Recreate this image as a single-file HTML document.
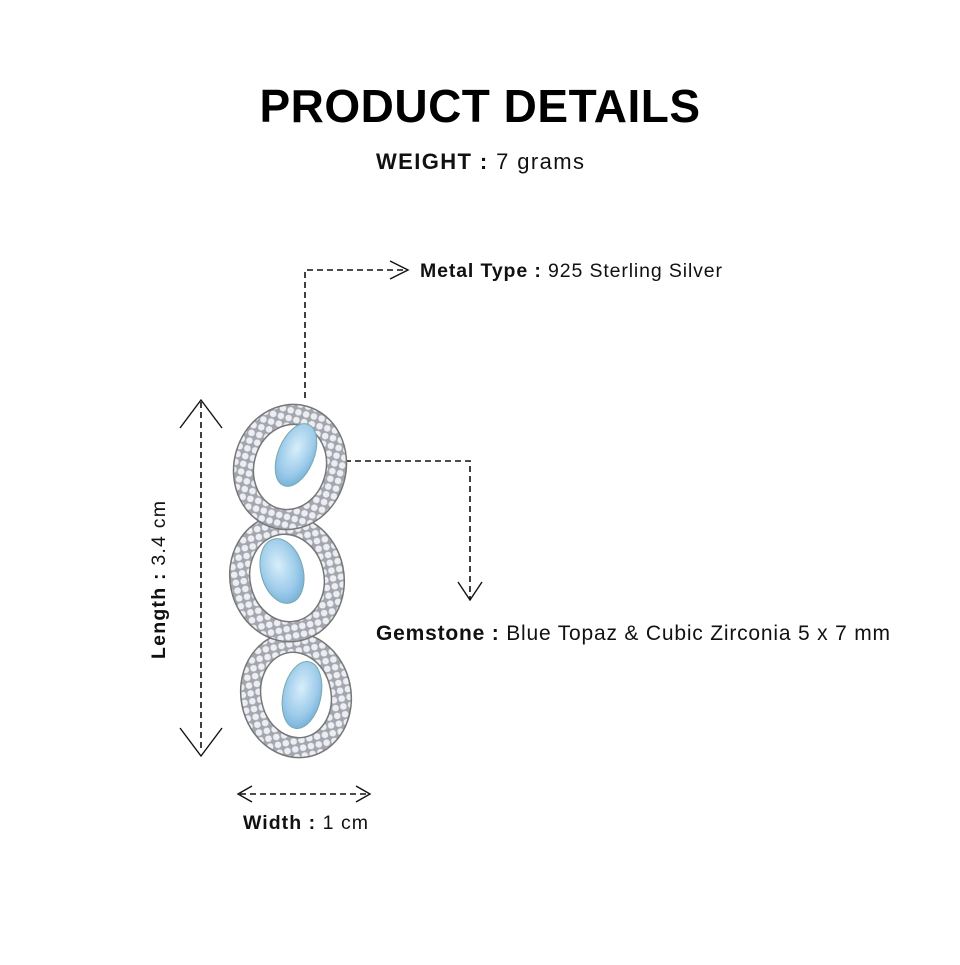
<!DOCTYPE html>
<html><head><style>
body{margin:0;background:#fff;width:960px;height:960px;overflow:hidden;font-family:"Liberation Sans",sans-serif}
</style></head><body>
<svg width="960" height="960" viewBox="0 0 960 960" xmlns="http://www.w3.org/2000/svg">
<defs>
<pattern id="pave" width="8" height="8" patternUnits="userSpaceOnUse">
<rect width="8" height="8" fill="#a4a6ae"/>
<circle cx="4" cy="4" r="3.3" fill="#eceef4"/>
</pattern>
<radialGradient id="gem" cx="0.45" cy="0.4" r="0.7">
<stop offset="0" stop-color="#d8eefa"/><stop offset="0.6" stop-color="#9ccbea"/><stop offset="1" stop-color="#6aa6d4"/>
</radialGradient>
</defs>
<text x="480" y="122" text-anchor="middle" font-size="46" font-weight="bold" fill="#000" letter-spacing="0.5">PRODUCT DETAILS</text>
<text x="376" y="169" font-size="22" fill="#111" textLength="208" lengthAdjust="spacing"><tspan font-weight="bold">WEIGHT :</tspan> 7 grams</text>

<g fill="none" stroke="#111" stroke-width="1.6" stroke-dasharray="6,4">
<path d="M305 398 V270 H405"/>
<path d="M325 461 H470 V600"/>
<path d="M201 402 V752"/>
<path d="M240 794 H368"/>
</g>
<g fill="none" stroke="#111" stroke-width="1.4">
<path d="M390 261 L408 270 L390 279"/>
<path d="M458 582 L470 600 L482 582"/>
<path d="M180 428 L201 400 L222 428"/>
<path d="M180 728 L201 756 L222 728"/>
<path d="M252 786 L238 794 L252 802"/>
<path d="M356 786 L370 794 L356 802"/>
</g>

<g stroke="#777" stroke-width="1.5">
<ellipse cx="296" cy="695" rx="55" ry="63" transform="rotate(-12 296 695)" fill="url(#pave)"/>
<ellipse cx="296" cy="695" rx="35" ry="43" transform="rotate(-12 296 695)" fill="#fff"/>
<ellipse cx="287" cy="578" rx="57" ry="64" transform="rotate(-12 287 578)" fill="url(#pave)"/>
<ellipse cx="287" cy="578" rx="37" ry="44" transform="rotate(-12 287 578)" fill="#fff"/>
<ellipse cx="290" cy="467" rx="56" ry="63" transform="rotate(15 290 467)" fill="url(#pave)"/>
<ellipse cx="290" cy="467" rx="36" ry="43" transform="rotate(15 290 467)" fill="#fff"/>
</g>
<g stroke="#7aa" stroke-width="1">
<ellipse cx="296" cy="455" rx="18" ry="33" transform="rotate(22 296 455)" fill="url(#gem)"/>
<ellipse cx="282" cy="571" rx="21" ry="33" transform="rotate(-15 282 571)" fill="url(#gem)"/>
<ellipse cx="302" cy="695" rx="19" ry="34" transform="rotate(12 302 695)" fill="url(#gem)"/>
</g>

<text x="420" y="277" font-size="19.5" fill="#111" textLength="302" lengthAdjust="spacing"><tspan font-weight="bold">Metal Type :</tspan> 925 Sterling Silver</text>
<text x="376" y="640" font-size="21" fill="#111" textLength="514" lengthAdjust="spacing"><tspan font-weight="bold">Gemstone :</tspan> Blue Topaz &amp; Cubic Zirconia 5 x 7 mm</text>
<text x="243" y="829" font-size="19.5" fill="#111" textLength="125" lengthAdjust="spacing"><tspan font-weight="bold">Width :</tspan> 1 cm</text>
<text transform="translate(165 580) rotate(-90)" text-anchor="middle" font-size="19.5" fill="#111" textLength="158" lengthAdjust="spacing"><tspan font-weight="bold">Length :</tspan> 3.4 cm</text>
</svg>
</body></html>
